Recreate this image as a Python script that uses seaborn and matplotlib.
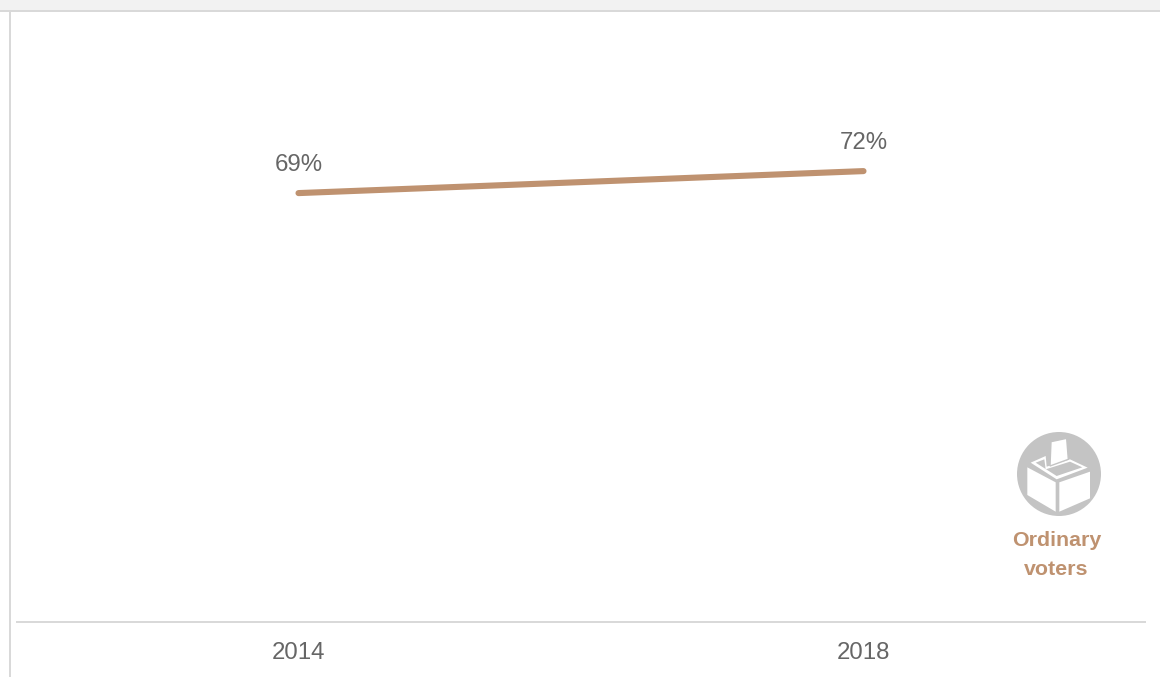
import matplotlib
matplotlib.use("Agg")
import matplotlib.pyplot as plt
from matplotlib.patches import Circle, Polygon, Rectangle
import pandas as pd
import seaborn as sns

years = [2014, 2018]
ordinary_voters = [69, 72]
value_labels = ["69%", "72%"]

LINE = "#BF9270"
TEXT = "#666666"
RULE = "#D9D9D9"
ICON = "#C4C4C4"
W, H = 1160, 677

sns.set_theme(style="white")
plt.rcParams["font.family"] = ["Liberation Sans", "DejaVu Sans"]

fig = plt.figure(figsize=(W / 100, H / 100), dpi=100, facecolor="white")


def box(x0, y0, x1, y1):
    return [x0 / W, 1 - y1 / H, (x1 - x0) / W, (y1 - y0) / H]


# page furniture
fig.add_artist(Rectangle((0, 1 - 10 / H), 1, 10 / H, transform=fig.transFigure, fc="#F2F2F2", ec="none"))
fig.add_artist(Rectangle((0, 1 - 12 / H), 1, 2 / H, transform=fig.transFigure, fc=RULE, ec="none"))
fig.add_artist(Rectangle((9 / W, 0), 2 / W, 1 - 12 / H, transform=fig.transFigure, fc=RULE, ec="none"))

ax = fig.add_axes(box(16, 12, 1146, 622))
ax.patch.set_alpha(0)
df = pd.DataFrame({"year": years, "share": ordinary_voters})
sns.lineplot(data=df, x="year", y="share", color=LINE, linewidth=4.4, ax=ax,
             solid_capstyle="round", errorbar=None)
ax.set_xlim(2012.0, 2020.0)
ax.set_ylim(10.5, 93.7)
ax.set_xticks(years)
ax.set_xticklabels([str(y) for y in years], fontsize=17.3, color=TEXT)
ax.tick_params(axis="x", length=0, pad=14.5)
ax.set_yticks([])
ax.set_xlabel("")
ax.set_ylabel("")
for side in ["top", "left", "right"]:
    ax.spines[side].set_visible(False)
ax.spines["bottom"].set_color(RULE)
ax.spines["bottom"].set_linewidth(1.44)
ax.spines["bottom"].set_capstyle("butt")

for yr, val, lab in zip(years, ordinary_voters, value_labels):
    ax.annotate(lab, (yr, val), xytext=(0, 12.2), textcoords="offset points",
                ha="center", va="bottom", fontsize=17.3, color=TEXT)

# ballot-box icon, in 3x pixel units of a 90x90 region
icon = fig.add_axes(box(1015, 430, 1105, 520))
icon.set_xlim(0, 270)
icon.set_ylim(270, 0)
icon.axis("off")
icon.add_patch(Circle((132, 132), 126, fc=ICON, ec="none"))
icon.add_patch(Polygon([(37, 112), (122, 157), (122, 245), (37, 195)], fc="white", ec="none"))
icon.add_patch(Polygon([(133, 157), (225, 125), (225, 205), (133, 245)], fc="white", ec="none"))
icon.add_patch(Polygon([(47, 98), (92, 78), (95, 110), (165, 88), (218, 113), (125, 148)], fc="white", ec="none"))
icon.add_patch(Polygon([(62, 98), (125, 138), (202, 112), (165, 95), (92, 118), (88, 88)], fc=ICON, ec="none"))
icon.add_patch(Polygon([(108, 35), (155, 25), (160, 88), (105, 108)], fc="white", ec=ICON, lw=1.0))

fig.text(1056.5 / W, 1 - 540.5 / H, "Ordinary", ha="center", va="center", fontsize=15.4, fontweight="bold", color=LINE)
fig.text(1056.5 / W, 1 - 569.5 / H, "voters", ha="center", va="center", fontsize=15.4, fontweight="bold", color=LINE)

fig.savefig("out.png", dpi=100, facecolor="white")
